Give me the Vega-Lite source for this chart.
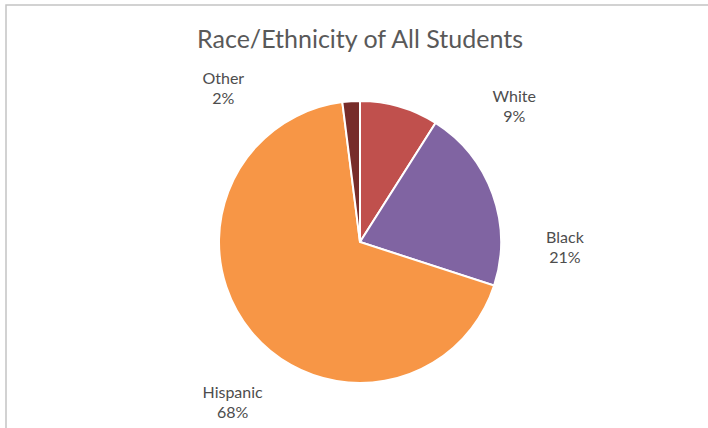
{
  "$schema": "https://vega.github.io/schema/vega-lite/v6.json",
  "width": 708,
  "height": 474,
  "autosize": {"type": "none"},
  "padding": {"left": 6, "top": 5, "right": 0, "bottom": 0},
  "background": "white",
  "config": {"view": {"stroke": null}},
  "title": {
    "text": "Race/Ethnicity of All Students",
    "offset": -49,
    "fontSize": 25,
    "font": "Lato",
    "fontWeight": "normal",
    "color": "#595959",
    "anchor": "middle"
  },
  "data": {
    "values": [
      {"group": "White", "share": 0.09, "rank": 1},
      {"group": "Black", "share": 0.21, "rank": 2},
      {"group": "Hispanic", "share": 0.68, "rank": 3},
      {"group": "Other", "share": 0.02, "rank": 4}
    ]
  },
  "layer": [
    {
      "data": {"values": [{"frame": 1}]},
      "mark": {"type": "rect", "fill": "white", "stroke": "#c4c4c4", "strokeWidth": 1.5},
      "encoding": {}
    },
    {
      "mark": {"type": "arc", "outerRadius": 141, "stroke": "white", "strokeWidth": 2},
      "encoding": {
        "theta": {"field": "share", "type": "quantitative", "stack": true},
        "order": {"field": "rank", "type": "quantitative"},
        "color": {
          "field": "group",
          "type": "nominal",
          "scale": {"domain": ["White", "Black", "Hispanic", "Other"], "range": ["#C0504D", "#8064A2", "#F79646", "#772C2A"]},
          "legend": null
        }
      }
    },
    {
      "encoding": {
        "theta": {
          "field": "share",
          "type": "quantitative",
          "stack": true,
          "scale": {"range": [0.628, 5.603]}
        },
        "order": {"field": "rank", "type": "quantitative"},
        "color": {
          "field": "group",
          "type": "nominal",
          "scale": {"domain": ["White", "Black", "Hispanic", "Other"], "range": ["#4d4d4d", "#4d4d4d", "#4d4d4d", "#4d4d4d"]},
          "legend": null
        }
      },
      "layer": [
        {
          "mark": {"type": "text", "radius": 205, "dy": -10, "font": "Lato", "fontSize": 16},
          "encoding": {"text": {"field": "group"}}
        },
        {
          "mark": {"type": "text", "radius": 205, "dy": 10, "font": "Lato", "fontSize": 16},
          "encoding": {"text": {"field": "share", "type": "quantitative", "format": ".0%"}}
        }
      ]
    }
  ],
  "resolve": {"scale": {"color": "independent", "theta": "independent"}}
}
